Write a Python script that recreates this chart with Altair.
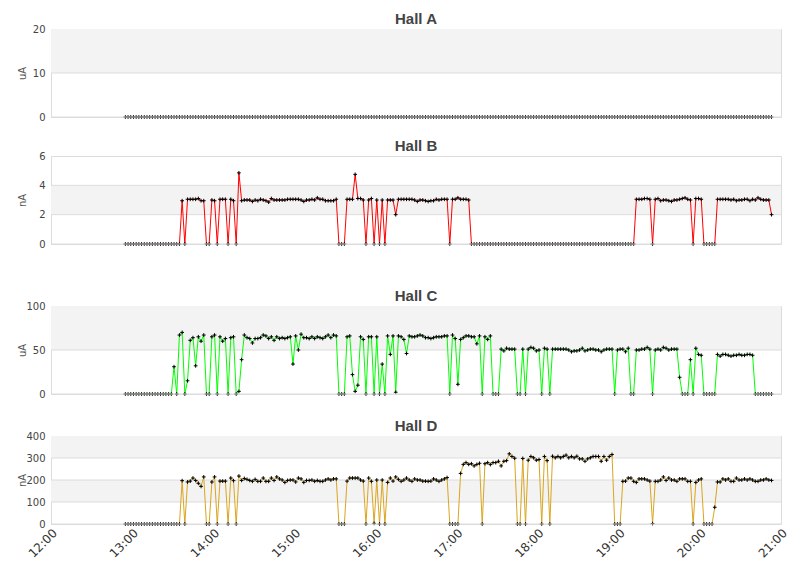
import altair as alt
import pandas as pd

HALLS = ["Hall A", "Hall B", "Hall C", "Hall D"]
UNITS = ["uA", "nA", "uA", "nA"]
Y_TICKS = [[0, 10, 20], [0, 2, 4, 6], [0, 50, 100], [0, 100, 200, 300, 400]]
LINE_COLORS = ["#3060c0", "#ff0000", "#00ff00", "#daa520"]
HOURS = [12, 13, 14, 15, 16, 17, 18, 19, 20, 21]
START = "2024-01-01 12:55"
STEP = "2min"

hall_a = [
    0, 0, 0, 0, 0, 0, 0, 0, 0, 0, 0, 0, 0, 0, 0, 0, 0, 0, 0, 0,
    0, 0, 0, 0, 0, 0, 0, 0, 0, 0, 0, 0, 0, 0, 0, 0, 0, 0, 0, 0,
    0, 0, 0, 0, 0, 0, 0, 0, 0, 0, 0, 0, 0, 0, 0, 0, 0, 0, 0, 0,
    0, 0, 0, 0, 0, 0, 0, 0, 0, 0, 0, 0, 0, 0, 0, 0, 0, 0, 0, 0,
    0, 0, 0, 0, 0, 0, 0, 0, 0, 0, 0, 0, 0, 0, 0, 0, 0, 0, 0, 0,
    0, 0, 0, 0, 0, 0, 0, 0, 0, 0, 0, 0, 0, 0, 0, 0, 0, 0, 0, 0,
    0, 0, 0, 0, 0, 0, 0, 0, 0, 0, 0, 0, 0, 0, 0, 0, 0, 0, 0, 0,
    0, 0, 0, 0, 0, 0, 0, 0, 0, 0, 0, 0, 0, 0, 0, 0, 0, 0, 0, 0,
    0, 0, 0, 0, 0, 0, 0, 0, 0, 0, 0, 0, 0, 0, 0, 0, 0, 0, 0, 0,
    0, 0, 0, 0, 0, 0, 0, 0, 0, 0, 0, 0, 0, 0, 0, 0, 0, 0, 0, 0,
    0, 0, 0, 0, 0, 0, 0, 0, 0, 0, 0, 0, 0, 0, 0, 0, 0, 0, 0, 0,
    0, 0, 0, 0, 0, 0, 0, 0, 0, 0, 0, 0, 0, 0, 0, 0, 0, 0, 0, 0,
]

hall_b = [
    0, 0, 0, 0, 0, 0, 0, 0, 0, 0,
    0, 0, 0, 0, 0, 0, 0, 0, 0, 0,
    0, 2.95, 0, 3.05, 3.05, 3.05, 3.05, 3.1, 2.95, 2.95,
    0, 0, 3.0, 2.95, 0, 3.05, 3.05, 3.05, 0, 3.05,
    2.95, 0, 4.85, 2.95, 3.0, 3.0, 3.0, 2.9, 3.0, 2.95,
    3.05, 3.0, 2.95, 2.85, 3.1, 3.0, 3.0, 3.0, 3.0, 3.0,
    3.05, 3.05, 3.05, 3.05, 3.05, 3.0, 2.9, 3.0, 3.0, 3.05,
    3.0, 3.15, 3.05, 3.05, 2.95, 2.95, 2.95, 2.95, 3.05, 0,
    0, 0, 3.05, 3.05, 3.05, 4.75, 3.1, 3.1, 3.0, 0,
    3.0, 3.1, 0, 3.0, 0, 3.0, 0, 3.0, 3.0, 3.0,
    2.0, 3.05, 3.05, 3.05, 3.05, 3.05, 3.05, 3.0, 2.9, 3.0,
    3.0, 2.95, 2.9, 2.95, 2.95, 3.05, 3.0, 3.05, 3.05, 3.05,
    0, 3.05, 3.05, 3.15, 3.05, 3.05, 3.05, 3.0, 0, 0,
    0, 0, 0, 0, 0, 0, 0, 0, 0, 0,
    0, 0, 0, 0, 0, 0, 0, 0, 0, 0,
    0, 0, 0, 0, 0, 0, 0, 0, 0, 0,
    0, 0, 0, 0, 0, 0, 0, 0, 0, 0,
    0, 0, 0, 0, 0, 0, 0, 0, 0, 0,
    0, 0, 0, 0, 0, 0, 0, 0, 0, 3.05,
    3.05, 3.05, 3.1, 3.1, 3.05, 0, 3.05, 3.1, 2.95, 3.0,
    3.0, 2.95, 2.9, 3.0, 3.0, 3.05, 3.1, 3.15, 3.05, 3.0,
    0, 3.1, 3.1, 3.05, 0, 0, 0, 0, 0, 3.05,
    3.05, 3.05, 3.05, 3.05, 3.0, 3.05, 2.95, 3.0, 3.0, 3.05,
    3.05, 2.95, 3.05, 3.0, 3.15, 3.05, 3.0, 3.0, 3.0, 2.0,
]

hall_c = [
    0, 0, 0, 0, 0, 0, 0, 0, 0, 0,
    0, 0, 0, 0, 0, 0, 0, 0, 31, 0,
    67, 70, 0, 15, 61, 64, 32, 65, 60, 67,
    0, 0, 65, 67, 0, 65, 60, 63, 0, 64,
    65, 0, 3, 39, 67, 64, 63, 58, 63, 63,
    64, 67, 66, 63, 65, 61, 65, 63, 64, 63,
    64, 65, 34, 66, 50, 68, 64, 64, 63, 65,
    63, 65, 64, 63, 65, 67, 64, 67, 66, 0,
    0, 0, 65, 66, 22, 3, 10, 65, 62, 0,
    65, 65, 0, 65, 0, 34, 0, 66, 45, 66,
    2, 66, 65, 62, 46, 66, 65, 65, 66, 67,
    66, 64, 64, 63, 64, 65, 65, 65, 66, 66,
    0, 67, 63, 11, 62, 64, 66, 66, 65, 65,
    57, 66, 0, 65, 62, 66, 0, 0, 0, 51,
    49, 52, 51, 51, 51, 0, 0, 51, 0, 51,
    53, 52, 49, 50, 0, 52, 51, 0, 51, 51,
    51, 51, 51, 51, 50, 48, 49, 49, 50, 52,
    49, 50, 51, 51, 50, 50, 48, 50, 51, 51,
    51, 0, 50, 51, 51, 48, 52, 0, 0, 50,
    50, 51, 51, 53, 51, 0, 50, 51, 50, 53,
    52, 50, 51, 51, 51, 19, 0, 0, 0, 39,
    0, 52, 45, 44, 0, 0, 0, 0, 0, 45,
    43, 45, 45, 44, 43, 44, 44, 45, 44, 44,
    45, 45, 44, 0, 0, 0, 0, 0, 0, 0,
]

hall_d = [
    0, 0, 0, 0, 0, 0, 0, 0, 0, 0,
    0, 0, 0, 0, 0, 0, 0, 0, 0, 0,
    0, 197, 0, 191, 195, 209, 198, 185, 171, 214,
    0, 0, 191, 214, 0, 195, 195, 195, 0, 209,
    197, 0, 218, 198, 207, 203, 198, 194, 203, 194,
    194, 209, 194, 194, 209, 198, 214, 205, 200, 189,
    198, 200, 200, 191, 209, 205, 189, 198, 198, 200,
    194, 198, 194, 194, 200, 205, 200, 205, 205, 0,
    0, 0, 195, 209, 209, 209, 209, 200, 195, 0,
    209, 194, 3, 200, 0, 200, 0, 189, 209, 195,
    214, 203, 194, 200, 209, 200, 194, 205, 200, 200,
    195, 195, 194, 195, 205, 200, 194, 200, 205, 211,
    0, 0, 0, 0, 230, 271, 279, 271, 274, 264,
    271, 276, 0, 274, 279, 270, 279, 279, 285, 264,
    285, 288, 319, 307, 299, 0, 0, 298, 0, 290,
    307, 301, 290, 293, 0, 307, 288, 0, 308, 301,
    307, 301, 307, 313, 301, 307, 301, 308, 296, 296,
    285, 296, 301, 307, 307, 307, 285, 307, 290, 307,
    316, 0, 0, 0, 194, 195, 209, 209, 194, 189,
    205, 205, 205, 200, 195, 2, 194, 194, 200, 214,
    198, 209, 200, 200, 194, 205, 205, 205, 194, 194,
    0, 189, 200, 205, 0, 0, 0, 0, 76, 191,
    191, 205, 200, 205, 194, 194, 209, 200, 200, 205,
    200, 205, 200, 194, 194, 200, 200, 205, 200, 198,
]

SERIES = [hall_a, hall_b, hall_c, hall_d]
times = pd.date_range(START, periods=len(hall_b), freq=STEP)

W, H = 730, 88
EXT = [8, 31, 11, 2]
CROSS = "M -1 0 L 1 0 M 0 -1 L 0 1"


def dt(h):
    return alt.DateTime(year=2024, month=1, date=1, hours=h)


def panel(k, values, last):
    ticks = Y_TICKS[k]
    ymax = ticks[-1]
    df = pd.DataFrame({"t": times, "v": values})
    bands = pd.DataFrame({
        "lo": [ticks[j] for j in range(1, len(ticks) - 1, 2)],
        "hi": [ticks[j + 1] for j in range(1, len(ticks) - 1, 2)],
    })
    grid = pd.DataFrame({"g": ticks[1:-1]})
    zero = pd.DataFrame({"g": [0]})

    yscale = alt.Scale(domain=[0, ymax], nice=False, zero=True)
    yaxis = alt.Axis(values=ticks, grid=False, domain=False, ticks=False,
                     labelPadding=6, title=UNITS[k], titleX=-24, titleY=H / 2)
    xscale = alt.Scale(domain=[dt(12), dt(21)])
    if last:
        xenc = alt.X("t:T", scale=xscale, title=None,
                     axis=alt.Axis(values=[dt(h) for h in HOURS], format="%H:%M",
                                   labelAngle=-45, grid=False, domain=False,
                                   ticks=False, labelFontSize=12, labelPadding=3,
                                   labelColor="#333"))
    else:
        xenc = alt.X("t:T", scale=xscale, axis=None)

    band = alt.Chart(bands).mark_rect(color="#f3f3f3").encode(
        x=alt.value(0), x2=alt.value(W),
        y=alt.Y("lo:Q", scale=yscale, axis=yaxis), y2="hi:Q")
    gl = alt.Chart(grid).mark_rule(color="#dcdcdc").encode(
        y=alt.Y("g:Q", scale=yscale, axis=yaxis))
    line = alt.Chart(df).mark_line(color=LINE_COLORS[k], strokeWidth=1, clip=True).encode(
        x=xenc, y=alt.Y("v:Q", scale=yscale, axis=yaxis))
    pts = alt.Chart(df).mark_point(shape=CROSS, size=14, filled=False, color="black",
                                   strokeWidth=1, opacity=1).encode(
        x=xenc, y=alt.Y("v:Q", scale=yscale, axis=yaxis))
    zl = alt.Chart(zero).mark_rule(color="#dcdcdc").encode(
        y=alt.Y("g:Q", scale=yscale, axis=yaxis))
    ext = alt.Chart(zero).mark_rule(color="white", strokeOpacity=0).encode(
        x=alt.value(W / 2), y=alt.value(H + 2), y2=alt.value(H + EXT[k]))
    return alt.layer(band, gl, line, pts, zl, ext).properties(
        width=W, height=H, title=HALLS[k])


panels = [panel(k, SERIES[k], k == 3) for k in range(4)]

chart = alt.vconcat(*panels, spacing=12).properties(
    padding={"left": 8, "top": 3, "right": 5, "bottom": 5}
).configure_view(
    stroke="#dcdcdc"
).configure_axis(
    labelFont="DejaVu Sans", labelFontSize=10, labelColor="#444",
    titleFont="DejaVu Sans", titleFontSize=10, titleColor="#555",
    titleFontWeight="normal"
).configure_title(
    font="Liberation Sans", fontSize=15, fontWeight="bold", color="#444",
    offset=-3, anchor="middle"
)

chart.save("out.html", embed_options={"renderer": "svg", "actions": False})
